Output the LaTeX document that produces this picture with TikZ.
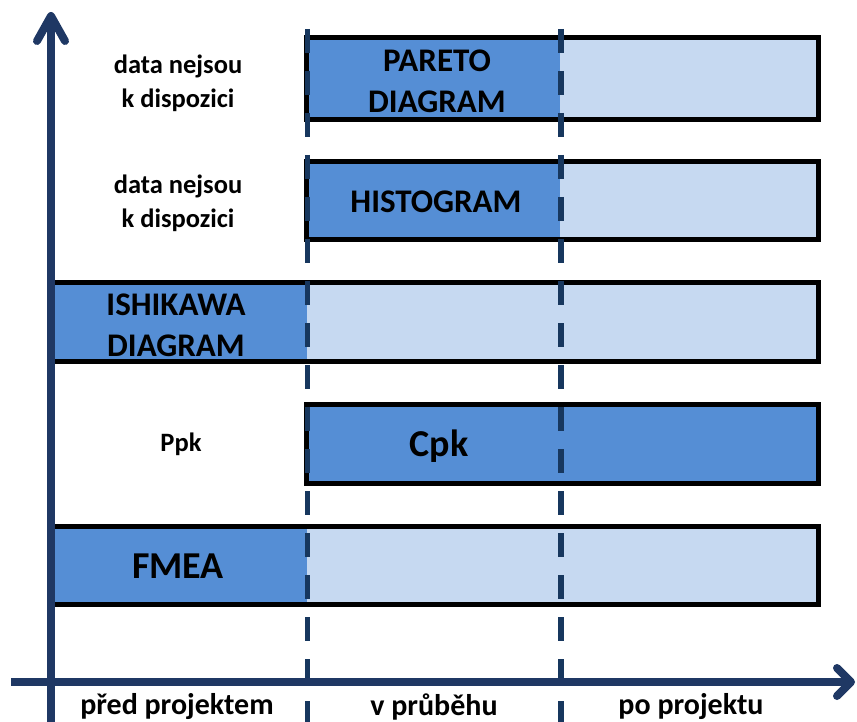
\documentclass[tikz,border=0pt]{standalone}
\usepackage{fontspec}
\setmainfont{Carlito}
\definecolor{navy}{RGB}{31,56,100}
\definecolor{dashnavy}{RGB}{23,55,94}
\definecolor{darkfill}{RGB}{85,142,213}
\definecolor{lightfill}{RGB}{198,217,241}
\tikzset{
  barborder/.style={draw=black,line width=5pt},
  darkpart/.style={fill=darkfill},
  lightpart/.style={fill=lightfill},
  phase/.style={draw=dashnavy,line width=5.5pt,dash pattern=on 24pt off 18pt},
  axisline/.style={draw=navy,line width=8pt},
  axishead/.style={draw=navy,line width=8pt,line cap=round,line join=round},
  bigtxt/.style={font=\bfseries\fontsize{33}{41}\selectfont,align=center,inner sep=0pt},
  hugetxt/.style={font=\bfseries\fontsize{38}{40}\selectfont,align=center,inner sep=0pt},
  smalltxt/.style={font=\bfseries\fontsize{26.5}{34}\selectfont,align=center,inner sep=0pt},
  axistxt/.style={font=\bfseries\fontsize{30}{34}\selectfont,align=center,inner sep=0pt},
}
\begin{document}
\begin{tikzpicture}[x=1pt,y=-1pt]
\useasboundingbox (0,0) rectangle (857,722);
% fills
\fill[darkpart] (306,38) rectangle (560,120);
\fill[lightpart] (560,38) rectangle (818.5,120);
\fill[darkpart] (306,162) rectangle (560,240);
\fill[lightpart] (560,162) rectangle (818.5,240);
\fill[darkpart] (51,282) rectangle (307,361);
\fill[lightpart] (307,282) rectangle (818.5,361);
\fill[darkpart] (306,404.5) rectangle (818.5,483);
\fill[darkpart] (51,526) rectangle (307,604.5);
\fill[lightpart] (307,526) rectangle (818.5,604.5);
% borders
\draw[barborder] (306,38) rectangle (818.5,120);
\draw[barborder] (306,162) rectangle (818.5,240);
\draw[barborder] (51,282) -- (818.5,282) -- (818.5,361) -- (51,361);
\draw[barborder] (306,404.5) rectangle (818.5,483);
\draw[barborder] (51,526) -- (818.5,526) -- (818.5,604.5) -- (51,604.5);
% phase separators
\coordinate (s1top) at (307.5,29);
\coordinate (s1bot) at (307.5,722);
\coordinate (s2top) at (561,29);
\coordinate (s2bot) at (561,722);
\draw[phase] (s1top) -- (s1bot);
\draw[phase] (s2top) -- (s2bot);
% axes
\coordinate (origin) at (51,682);
\coordinate (ybot) at (51,722);
\coordinate (ytip) at (51,16);
\coordinate (xleft) at (11,682);
\coordinate (xtip) at (851,682);
\draw[axisline] (ybot) -- (ytip);
\draw[axisline] (xleft) -- (xtip);
\draw[axishead] (37,41) -- (ytip) -- (65,41);
\draw[axishead] (837,668) -- (xtip) -- (837,696);
% texts
\node[bigtxt] (pareto) at (437,81) {PARETO\\DIAGRAM};
\node[bigtxt] (histogram) at (436,202) {HISTOGRAM};
\node[bigtxt] (ishikawa) at (176,325) {ISHIKAWA\\DIAGRAM};
\node[hugetxt] (cpk) at (439,446) {Cpk};
\node[hugetxt] (fmea) at (178,566) {FMEA};
\node[smalltxt] (ppk) at (181,444) {Ppk};
\node[smalltxt] (nodata1) at (178,83) {data nejsou\\k dispozici};
\node[smalltxt] (nodata2) at (178,203) {data nejsou\\k dispozici};
\node[axistxt] (pre) at (177,707) {před projektem};
\node[axistxt] (during) at (434,707) {v průběhu};
\node[axistxt] (post) at (691,707) {po projektu};
\end{tikzpicture}
\end{document}
